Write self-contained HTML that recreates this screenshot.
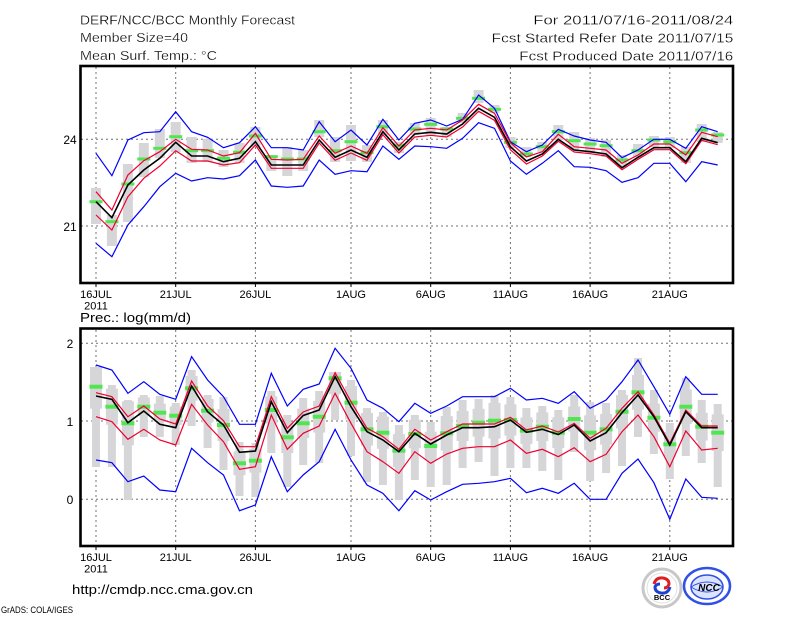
<!DOCTYPE html>
<html><head><meta charset="utf-8"><style>
html,body{margin:0;padding:0;background:#fff;}
svg{display:block;}
text{font-family:"Liberation Sans",sans-serif;fill:#000;}
</style></head><body>
<svg width="800" height="618" viewBox="0 0 800 618" xmlns="http://www.w3.org/2000/svg">
<rect width="800" height="618" fill="#fff"/>
<!-- header -->
<g stroke="#fff" stroke-width="0.25">
<text x="80" y="24.3" font-size="13" textLength="215" lengthAdjust="spacingAndGlyphs">DERF/NCC/BCC Monthly Forecast</text>
<text x="80" y="42" font-size="13" textLength="108" lengthAdjust="spacingAndGlyphs">Member Size=40</text>
<text x="80" y="60" font-size="13" textLength="137" lengthAdjust="spacingAndGlyphs">Mean Surf. Temp.: °C</text>
<text x="533.3" y="24.3" font-size="13" textLength="200" lengthAdjust="spacingAndGlyphs">For 2011/07/16-2011/08/24</text>
<text x="491.7" y="42.3" font-size="13" textLength="241.6" lengthAdjust="spacingAndGlyphs">Fcst Started Refer Date 2011/07/15</text>
<text x="519.3" y="60.5" font-size="13" textLength="214" lengthAdjust="spacingAndGlyphs">Fcst Produced Date 2011/07/16</text>
</g>

<!-- ===== TOP CHART ===== -->
<g stroke="#707070" stroke-width="1" stroke-dasharray="2,3" fill="none">
<line x1="81" y1="139.3" x2="733" y2="139.3"/>
<line x1="81" y1="226" x2="733" y2="226"/>
<line x1="96" y1="67" x2="96" y2="283"/>
<line x1="175.7" y1="67" x2="175.7" y2="283"/>
<line x1="255.4" y1="67" x2="255.4" y2="283"/>
<line x1="351" y1="67" x2="351" y2="283"/>
<line x1="430.7" y1="67" x2="430.7" y2="283"/>
<line x1="510.4" y1="67" x2="510.4" y2="283"/>
<line x1="590.1" y1="67" x2="590.1" y2="283"/>
<line x1="669.8" y1="67" x2="669.8" y2="283"/>
</g>
<g fill="#d6d6d9">
<rect x="91" y="188" width="10" height="36"/>
<rect x="106.9" y="215" width="10" height="31"/>
<rect x="122.9" y="164" width="10" height="58"/>
<rect x="138.8" y="143" width="10" height="34"/>
<rect x="154.8" y="129" width="10" height="29"/>
<rect x="170.7" y="122" width="10" height="30"/>
<rect x="186.6" y="137" width="10" height="26"/>
<rect x="202.6" y="139" width="10" height="23"/>
<rect x="218.5" y="150" width="10" height="17"/>
<rect x="234.5" y="143" width="10" height="20"/>
<rect x="250.4" y="127" width="10" height="20"/>
<rect x="266.3" y="155" width="10" height="16"/>
<rect x="282.3" y="147" width="10" height="29"/>
<rect x="298.2" y="150" width="10" height="21"/>
<rect x="314.2" y="120" width="10" height="17"/>
<rect x="330.1" y="137" width="10" height="25"/>
<rect x="346" y="125" width="10" height="36"/>
<rect x="362" y="145" width="10" height="17"/>
<rect x="377.9" y="120" width="10" height="15"/>
<rect x="393.9" y="142" width="10" height="11"/>
<rect x="409.8" y="123" width="10" height="12"/>
<rect x="425.7" y="118" width="10" height="17"/>
<rect x="441.7" y="127" width="10" height="10"/>
<rect x="457.6" y="113" width="10" height="10"/>
<rect x="473.6" y="90" width="10" height="13"/>
<rect x="489.5" y="105" width="10" height="8"/>
<rect x="505.4" y="137" width="10" height="11"/>
<rect x="521.4" y="147" width="10" height="10"/>
<rect x="537.3" y="142" width="10" height="10"/>
<rect x="553.3" y="125" width="10" height="15"/>
<rect x="569.2" y="132" width="10" height="18"/>
<rect x="585.1" y="138" width="10" height="15"/>
<rect x="601.1" y="140" width="10" height="17"/>
<rect x="617" y="155" width="10" height="12"/>
<rect x="633" y="144" width="10" height="13"/>
<rect x="648.9" y="136" width="10" height="11"/>
<rect x="664.8" y="137" width="10" height="11"/>
<rect x="680.8" y="147" width="10" height="16"/>
<rect x="696.7" y="124" width="10" height="18"/>
<rect x="712.7" y="132" width="10" height="11"/>
</g>
<g fill="#50e650">
<rect x="89.5" y="200.2" width="13" height="3"/>
<rect x="105.4" y="220.2" width="13" height="3"/>
<rect x="121.4" y="182.5" width="13" height="3"/>
<rect x="137.3" y="157.5" width="13" height="3"/>
<rect x="153.3" y="146.8" width="13" height="3"/>
<rect x="169.2" y="135.2" width="13" height="3"/>
<rect x="185.1" y="149.2" width="13" height="3"/>
<rect x="201.1" y="149.2" width="13" height="3"/>
<rect x="217" y="156.8" width="13" height="3"/>
<rect x="233" y="150.8" width="13" height="3"/>
<rect x="248.9" y="134.5" width="13" height="3"/>
<rect x="264.8" y="155.2" width="13" height="3"/>
<rect x="280.8" y="157.5" width="13" height="3"/>
<rect x="296.7" y="157.5" width="13" height="3"/>
<rect x="312.7" y="130.2" width="13" height="3"/>
<rect x="328.6" y="149.2" width="13" height="3"/>
<rect x="344.5" y="140.2" width="13" height="3"/>
<rect x="360.5" y="151.2" width="13" height="3"/>
<rect x="376.4" y="125.2" width="13" height="3"/>
<rect x="392.4" y="144.2" width="13" height="3"/>
<rect x="408.3" y="127.5" width="13" height="3"/>
<rect x="424.2" y="122.8" width="13" height="3"/>
<rect x="440.2" y="127.5" width="13" height="3"/>
<rect x="456.1" y="116.8" width="13" height="3"/>
<rect x="472.1" y="96.8" width="13" height="3"/>
<rect x="488" y="107.8" width="13" height="3"/>
<rect x="503.9" y="140.8" width="13" height="3"/>
<rect x="519.9" y="152.5" width="13" height="3"/>
<rect x="535.8" y="145.2" width="13" height="3"/>
<rect x="551.8" y="130.2" width="13" height="3"/>
<rect x="567.7" y="139.2" width="13" height="3"/>
<rect x="583.6" y="142.5" width="13" height="3"/>
<rect x="599.6" y="144.2" width="13" height="3"/>
<rect x="615.5" y="158.5" width="13" height="3"/>
<rect x="631.5" y="149.2" width="13" height="3"/>
<rect x="647.4" y="138.5" width="13" height="3"/>
<rect x="663.3" y="140.2" width="13" height="3"/>
<rect x="679.3" y="151.2" width="13" height="3"/>
<rect x="695.2" y="128.5" width="13" height="3"/>
<rect x="711.2" y="133.5" width="13" height="3"/>
</g>
<g fill="none" stroke-linejoin="miter">
<polyline stroke="#0000ff" stroke-width="1.2" points="96,153.3 111.9,175.7 127.9,140 143.8,132.7 159.8,131.7 175.7,111.7 191.6,131.7 207.6,137.3 223.5,147.7 239.5,142.7 255.4,126.7 271.3,147.7 287.3,147.7 303.2,150 319.2,121.7 335.1,141.7 351,130 367,145 382.9,119.3 398.9,140 414.8,123.3 430.7,120 446.7,126 462.6,119.3 478.6,95 494.5,108.3 510.4,141.7 526.4,151.7 542.3,145 558.3,129.3 574.2,136 590.1,140 606.1,142.3 622,157.7 638,150 653.9,139.3 669.8,139.3 685.8,148.3 701.7,126.7 717.7,131.7"/>
<polyline stroke="#0000ff" stroke-width="1.2" points="96,243.3 111.9,256.7 127.9,225 143.8,206.7 159.8,186.7 175.7,173.3 191.6,181 207.6,177.7 223.5,179 239.5,175.7 255.4,160 271.3,186 287.3,187.3 303.2,186 319.2,160 335.1,174.3 351,170.7 367,171.7 382.9,146 398.9,159.3 414.8,146 430.7,146.7 446.7,148.3 462.6,138.3 478.6,122.7 494.5,128.3 510.4,161 526.4,174.3 542.3,163.3 558.3,150.7 574.2,166.7 590.1,167.3 606.1,170.7 622,182.3 638,177.7 653.9,163.3 669.8,163.3 685.8,181.7 701.7,161.7 717.7,165"/>
<polyline stroke="#f00030" stroke-width="1.2" points="96,191.7 111.9,210 127.9,175 143.8,160.7 159.8,151.7 175.7,139.3 191.6,149.3 207.6,150 223.5,156 239.5,152.7 255.4,133.3 271.3,159.3 287.3,160 303.2,159.3 319.2,136 335.1,153.3 351,146 367,153.3 382.9,127.7 398.9,146 414.8,130 430.7,128.3 446.7,130 462.6,120 478.6,104.3 494.5,113.3 510.4,142.7 526.4,157 542.3,151.7 558.3,134.3 574.2,146.7 590.1,148.3 606.1,150 622,163.3 638,155 653.9,144 669.8,144 685.8,155 701.7,132.3 717.7,136.7"/>
<polyline stroke="#f00030" stroke-width="1.2" points="96,215 111.9,230 127.9,196.7 143.8,178.3 159.8,166 175.7,150.7 191.6,161 207.6,161 223.5,165 239.5,162.7 255.4,145 271.3,168.3 287.3,168.3 303.2,168.3 319.2,143 335.1,160.3 351,153 367,160.3 382.9,134.7 398.9,153 414.8,137 430.7,135.3 446.7,137 462.6,127 478.6,111.3 494.5,120.3 510.4,149.7 526.4,164 542.3,156 558.3,141.3 574.2,152 590.1,153.7 606.1,156 622,169.7 638,159.3 653.9,149.7 669.8,149.7 685.8,163.7 701.7,140.3 717.7,144.7"/>
<polyline stroke="#000" stroke-width="1.6" points="96,201.7 111.9,217.7 127.9,185 143.8,170 159.8,158.3 175.7,142.3 191.6,156 207.6,156 223.5,161.7 239.5,158.3 255.4,141.7 271.3,165 287.3,165 303.2,165 319.2,140 335.1,157.3 351,150 367,157.3 382.9,131.7 398.9,150 414.8,134 430.7,132.3 446.7,134 462.6,124 478.6,108.3 494.5,117.3 510.4,146.7 526.4,161 542.3,154 558.3,139.3 574.2,150 590.1,151.7 606.1,154 622,167.7 638,157.3 653.9,147.7 669.8,147.7 685.8,161.7 701.7,138.3 717.7,142.7"/>
</g>
<rect x="80.5" y="66" width="652.5" height="217" fill="none" stroke="#000" stroke-width="2.6"/>
<g stroke="#000" stroke-width="1">
<line x1="96" y1="283" x2="96" y2="287"/><line x1="175.7" y1="283" x2="175.7" y2="287"/><line x1="255.4" y1="283" x2="255.4" y2="287"/><line x1="351" y1="283" x2="351" y2="287"/><line x1="430.7" y1="283" x2="430.7" y2="287"/><line x1="510.4" y1="283" x2="510.4" y2="287"/><line x1="590.1" y1="283" x2="590.1" y2="287"/><line x1="669.8" y1="283" x2="669.8" y2="287"/>
</g>
<g font-size="12" text-anchor="middle">
<text x="70" y="144">24</text>
<text x="70" y="231">21</text>
</g>
<g font-size="11" text-anchor="middle">
<text x="96" y="298">16JUL</text>
<text x="96" y="309.5">2011</text>
<text x="175.7" y="298">21JUL</text>
<text x="255.4" y="298">26JUL</text>
<text x="351" y="298">1AUG</text>
<text x="430.7" y="298">6AUG</text>
<text x="510.4" y="298">11AUG</text>
<text x="590.1" y="298">16AUG</text>
<text x="669.8" y="298">21AUG</text>
</g>
<text x="80" y="322" font-size="13" textLength="111" lengthAdjust="spacingAndGlyphs">Prec.: log(mm/d)</text>

<!-- ===== BOTTOM CHART ===== -->
<g stroke="#707070" stroke-width="1" stroke-dasharray="2,3" fill="none">
<line x1="81" y1="343.3" x2="733" y2="343.3"/>
<line x1="81" y1="421" x2="733" y2="421"/>
<line x1="81" y1="499.3" x2="733" y2="499.3"/>
<line x1="96" y1="330" x2="96" y2="546"/>
<line x1="175.7" y1="330" x2="175.7" y2="546"/>
<line x1="255.4" y1="330" x2="255.4" y2="546"/>
<line x1="351" y1="330" x2="351" y2="546"/>
<line x1="430.7" y1="330" x2="430.7" y2="546"/>
<line x1="510.4" y1="330" x2="510.4" y2="546"/>
<line x1="590.1" y1="330" x2="590.1" y2="546"/>
<line x1="669.8" y1="330" x2="669.8" y2="546"/>
</g>
<g fill="#d6d6d9">
<rect x="92" y="367" width="8" height="100"/><rect x="90" y="367" width="12" height="41.7"/>
<rect x="107.9" y="385" width="8" height="82"/><rect x="105.9" y="388.7" width="12" height="36"/>
<rect x="123.9" y="400" width="8" height="100"/><rect x="121.9" y="401.3" width="12" height="44"/>
<rect x="139.8" y="395" width="8" height="42"/><rect x="137.8" y="397.5" width="12" height="18.5"/>
<rect x="155.8" y="396" width="8" height="41"/><rect x="153.8" y="403.7" width="12" height="18"/>
<rect x="171.7" y="403" width="8" height="42"/><rect x="169.7" y="406.5" width="12" height="18.5"/>
<rect x="187.6" y="370" width="8" height="56"/><rect x="185.6" y="376" width="12" height="24.6"/>
<rect x="203.6" y="395" width="8" height="53"/><rect x="201.6" y="399" width="12" height="23.4"/>
<rect x="219.5" y="397" width="8" height="73"/><rect x="217.5" y="409" width="12" height="32"/>
<rect x="235.5" y="442" width="8" height="54"/><rect x="233.5" y="451.4" width="12" height="23.8"/>
<rect x="251.4" y="443" width="8" height="54"/><rect x="249.4" y="448.8" width="12" height="23.8"/>
<rect x="267.3" y="391" width="8" height="62"/><rect x="265.3" y="396.4" width="12" height="27.2"/>
<rect x="283.3" y="415" width="8" height="72"/><rect x="281.3" y="421.5" width="12" height="31.6"/>
<rect x="299.2" y="398" width="8" height="67"/><rect x="297.2" y="408.6" width="12" height="29.4"/>
<rect x="315.2" y="391" width="8" height="72"/><rect x="313.2" y="400.9" width="12" height="31.6"/>
<rect x="331.1" y="372" width="8" height="48"/><rect x="329.1" y="372" width="12" height="22"/>
<rect x="347" y="380" width="8" height="76"/><rect x="345" y="386" width="12" height="33.4"/>
<rect x="363" y="408" width="8" height="74"/><rect x="361" y="413" width="12" height="32.6"/>
<rect x="378.9" y="412" width="8" height="73"/><rect x="376.9" y="416.6" width="12" height="32.2"/>
<rect x="394.9" y="425" width="8" height="75"/><rect x="392.9" y="434.2" width="12" height="33"/>
<rect x="410.8" y="415" width="8" height="65"/><rect x="408.8" y="419.7" width="12" height="28.6"/>
<rect x="426.7" y="422" width="8" height="65"/><rect x="424.7" y="431.7" width="12" height="28.6"/>
<rect x="442.7" y="407" width="8" height="78"/><rect x="440.7" y="416.1" width="12" height="34.4"/>
<rect x="458.6" y="400" width="8" height="68"/><rect x="456.6" y="411" width="12" height="30"/>
<rect x="474.6" y="399" width="8" height="63"/><rect x="472.6" y="408.8" width="12" height="27.8"/>
<rect x="490.5" y="395" width="8" height="81"/><rect x="488.5" y="402.9" width="12" height="35.6"/>
<rect x="506.4" y="397" width="8" height="71"/><rect x="504.4" y="404.4" width="12" height="31.2"/>
<rect x="522.4" y="408" width="8" height="60"/><rect x="520.4" y="417.5" width="12" height="26.4"/>
<rect x="538.3" y="406" width="8" height="65"/><rect x="536.3" y="412.4" width="12" height="28.6"/>
<rect x="554.3" y="410" width="8" height="70"/><rect x="552.3" y="417.3" width="12" height="30.8"/>
<rect x="570.2" y="395" width="8" height="57"/><rect x="568.2" y="406.5" width="12" height="25"/>
<rect x="586.1" y="402" width="8" height="79"/><rect x="584.1" y="415.3" width="12" height="34.8"/>
<rect x="602.1" y="403" width="8" height="70"/><rect x="600.1" y="413.9" width="12" height="30.8"/>
<rect x="618" y="390" width="8" height="76"/><rect x="616" y="395" width="12" height="33.4"/>
<rect x="634" y="358" width="8" height="79"/><rect x="632" y="374.9" width="12" height="34.8"/>
<rect x="649.9" y="390" width="8" height="64"/><rect x="647.9" y="403.6" width="12" height="28.2"/>
<rect x="665.8" y="423" width="8" height="56"/><rect x="663.8" y="432" width="12" height="24.6"/>
<rect x="681.8" y="378" width="8" height="78"/><rect x="679.8" y="389.5" width="12" height="34.4"/>
<rect x="697.7" y="400" width="8" height="63"/><rect x="695.7" y="412.8" width="12" height="27.8"/>
<rect x="713.7" y="404" width="8" height="83"/><rect x="711.7" y="414.4" width="12" height="36.6"/>
</g>
<g fill="#50e650">
<rect x="89.5" y="384.7" width="13" height="4"/>
<rect x="105.4" y="404.7" width="13" height="4"/>
<rect x="121.4" y="421.3" width="13" height="4"/>
<rect x="137.3" y="404.7" width="13" height="4"/>
<rect x="153.3" y="410.7" width="13" height="4"/>
<rect x="169.2" y="413.7" width="13" height="4"/>
<rect x="185.1" y="386.3" width="13" height="4"/>
<rect x="201.1" y="408.7" width="13" height="4"/>
<rect x="217" y="423" width="13" height="4"/>
<rect x="233" y="461.3" width="13" height="4"/>
<rect x="248.9" y="458.7" width="13" height="4"/>
<rect x="264.8" y="408" width="13" height="4"/>
<rect x="280.8" y="435.3" width="13" height="4"/>
<rect x="296.7" y="421.3" width="13" height="4"/>
<rect x="312.7" y="414.7" width="13" height="4"/>
<rect x="328.6" y="376.3" width="13" height="4"/>
<rect x="344.5" y="400.7" width="13" height="4"/>
<rect x="360.5" y="427.3" width="13" height="4"/>
<rect x="376.4" y="430.7" width="13" height="4"/>
<rect x="392.4" y="448.7" width="13" height="4"/>
<rect x="408.3" y="432" width="13" height="4"/>
<rect x="424.2" y="444" width="13" height="4"/>
<rect x="440.2" y="431.3" width="13" height="4"/>
<rect x="456.1" y="424" width="13" height="4"/>
<rect x="472.1" y="420.7" width="13" height="4"/>
<rect x="488" y="418.7" width="13" height="4"/>
<rect x="503.9" y="418" width="13" height="4"/>
<rect x="519.9" y="428.7" width="13" height="4"/>
<rect x="535.8" y="424.7" width="13" height="4"/>
<rect x="551.8" y="430.7" width="13" height="4"/>
<rect x="567.7" y="417" width="13" height="4"/>
<rect x="583.6" y="430.7" width="13" height="4"/>
<rect x="599.6" y="427.3" width="13" height="4"/>
<rect x="615.5" y="409.7" width="13" height="4"/>
<rect x="631.5" y="390.3" width="13" height="4"/>
<rect x="647.4" y="415.7" width="13" height="4"/>
<rect x="663.3" y="442.3" width="13" height="4"/>
<rect x="679.3" y="404.7" width="13" height="4"/>
<rect x="695.2" y="424.7" width="13" height="4"/>
<rect x="711.2" y="430.7" width="13" height="4"/>
</g>
<g fill="none" stroke-linejoin="miter">
<polyline stroke="#0000ff" stroke-width="1.2" points="96,365 111.9,370 127.9,393.3 143.8,381.7 159.8,394.3 175.7,399.3 191.6,356.7 207.6,380 223.5,396.7 239.5,424.3 255.4,424.3 271.3,373.3 287.3,406 303.2,389.3 319.2,384 335.1,348.3 351,368.3 367,400 382.9,408.3 398.9,421.7 414.8,403.3 430.7,413.3 446.7,406 462.6,396.7 478.6,396.7 494.5,396.7 510.4,388.3 526.4,400 542.3,398.3 558.3,403.3 574.2,391.7 590.1,408.3 606.1,400 622,381.7 638,360 653.9,386.7 669.8,414.3 685.8,376.7 701.7,394.3 717.7,394.3"/>
<polyline stroke="#0000ff" stroke-width="1.2" points="96,460 111.9,462.7 127.9,481.7 143.8,476 159.8,490 175.7,491.7 191.6,448.3 207.6,462.7 223.5,475 239.5,510.7 255.4,505 271.3,456.7 287.3,491.7 303.2,475 319.2,461.7 335.1,429.3 351,460 367,485 382.9,493.3 398.9,510.7 414.8,490.7 430.7,500 446.7,491.7 462.6,484.3 478.6,483.3 494.5,481.7 510.4,478.3 526.4,492.7 542.3,488.3 558.3,493.3 574.2,483.3 590.1,499.3 606.1,499.3 622,473.3 638,459 653.9,482.7 669.8,519.3 685.8,479 701.7,497.3 717.7,498.3"/>
<polyline stroke="#f00030" stroke-width="1.2" points="96,392.7 111.9,396.7 127.9,416.7 143.8,406 159.8,419 175.7,424 191.6,381 207.6,406 223.5,420.7 239.5,446.7 255.4,446.7 271.3,396.7 287.3,428.3 303.2,412 319.2,406 335.1,372.7 351,401.7 367,428.3 382.9,436.7 398.9,449.3 414.8,429.3 430.7,440 446.7,431.7 462.6,424 478.6,424 494.5,424 510.4,417.3 526.4,430 542.3,426 558.3,432 574.2,423.3 590.1,438.3 606.1,428.3 622,408.3 638,391.7 653.9,415 669.8,443.3 685.8,410 701.7,426 717.7,426"/>
<polyline stroke="#f00030" stroke-width="1.2" points="96,416.7 111.9,421.7 127.9,439.3 143.8,429.3 159.8,440 175.7,445 191.6,404.3 207.6,425 223.5,441.7 239.5,469.3 255.4,466.7 271.3,415 287.3,449.3 303.2,433.3 319.2,426 335.1,393.3 351,423.3 367,451.7 382.9,461.7 398.9,473.3 414.8,451.7 430.7,463.3 446.7,454 462.6,448.3 478.6,446.7 494.5,446.7 510.4,440 526.4,453.3 542.3,449.3 558.3,456.7 574.2,447.7 590.1,461.7 606.1,454.3 622,431.7 638,415 653.9,436.7 669.8,466.7 685.8,431 701.7,450 717.7,448.3"/>
<polyline stroke="#000" stroke-width="1.6" points="96,396 111.9,399.3 127.9,422.7 143.8,411 159.8,424.3 175.7,427.7 191.6,386 207.6,411.7 223.5,425 239.5,452.3 255.4,451 271.3,401.7 287.3,432.7 303.2,415.5 319.2,410 335.1,376.7 351,406.7 367,431.7 382.9,440 398.9,451.7 414.8,433.3 430.7,444 446.7,435 462.6,427.7 478.6,427.7 494.5,426.7 510.4,420 526.4,432.3 542.3,429.3 558.3,434.5 574.2,425 590.1,441 606.1,432.7 622,412.7 638,395 653.9,416.7 669.8,445 685.8,411.7 701.7,427.7 717.7,427.7"/>
</g>
<rect x="80.5" y="328.5" width="652.5" height="217.5" fill="none" stroke="#000" stroke-width="2.6"/>
<g stroke="#000" stroke-width="1">
<line x1="96" y1="546" x2="96" y2="550"/><line x1="175.7" y1="546" x2="175.7" y2="550"/><line x1="255.4" y1="546" x2="255.4" y2="550"/><line x1="351" y1="546" x2="351" y2="550"/><line x1="430.7" y1="546" x2="430.7" y2="550"/><line x1="510.4" y1="546" x2="510.4" y2="550"/><line x1="590.1" y1="546" x2="590.1" y2="550"/><line x1="669.8" y1="546" x2="669.8" y2="550"/>
</g>
<g font-size="12" text-anchor="middle">
<text x="70" y="348">2</text>
<text x="70" y="426">1</text>
<text x="70" y="504">0</text>
</g>
<g font-size="11" text-anchor="middle">
<text x="96" y="561">16JUL</text>
<text x="96" y="572.5">2011</text>
<text x="175.7" y="561">21JUL</text>
<text x="255.4" y="561">26JUL</text>
<text x="351" y="561">1AUG</text>
<text x="430.7" y="561">6AUG</text>
<text x="510.4" y="561">11AUG</text>
<text x="590.1" y="561">16AUG</text>
<text x="669.8" y="561">21AUG</text>
</g>

<!-- footer -->
<text x="72" y="594" font-size="13" textLength="181" lengthAdjust="spacingAndGlyphs">http://cmdp.ncc.cma.gov.cn</text>
<text x="1" y="613" font-size="9.5" textLength="72" lengthAdjust="spacingAndGlyphs">GrADS: COLA/IGES</text>

<!-- BCC logo -->
<g>
<circle cx="662" cy="588" r="19" fill="#fff" stroke="#c8c8c8" stroke-width="3"/>
<circle cx="662" cy="588" r="15" fill="#fff" stroke="#e0e0e0" stroke-width="1"/>
<path d="M654,584 q2,-7 9,-6 q6,1 6,6 q-1,4 -5,4" fill="none" stroke="#e02020" stroke-width="3"/>
<path d="M670,587 q-2,7 -9,6 q-6,-1 -6,-6 q1,-3 5,-3" fill="none" stroke="#2040d0" stroke-width="3"/>
<text x="662" y="600" font-family="Liberation Serif,serif" font-size="7.5" font-weight="bold" text-anchor="middle" fill="#1a2a5a">BCC</text>
</g>
<!-- NCC logo -->
<g>
<ellipse cx="707" cy="586" rx="23" ry="18" fill="#fff" stroke="#3050e8" stroke-width="2.5"/>
<ellipse cx="707" cy="587" rx="16" ry="12" fill="#dde4ff" stroke="#3050e8" stroke-width="1.5"/>
<path d="M691,587 q16,-10 32,0 M691,587 q16,10 32,0" fill="none" stroke="#3050e8" stroke-width="1"/>
<text x="709" y="591" font-size="10" font-weight="bold" font-style="italic" text-anchor="middle" fill="#2038d8">NCC</text>
</g>
</svg>
</body></html>
